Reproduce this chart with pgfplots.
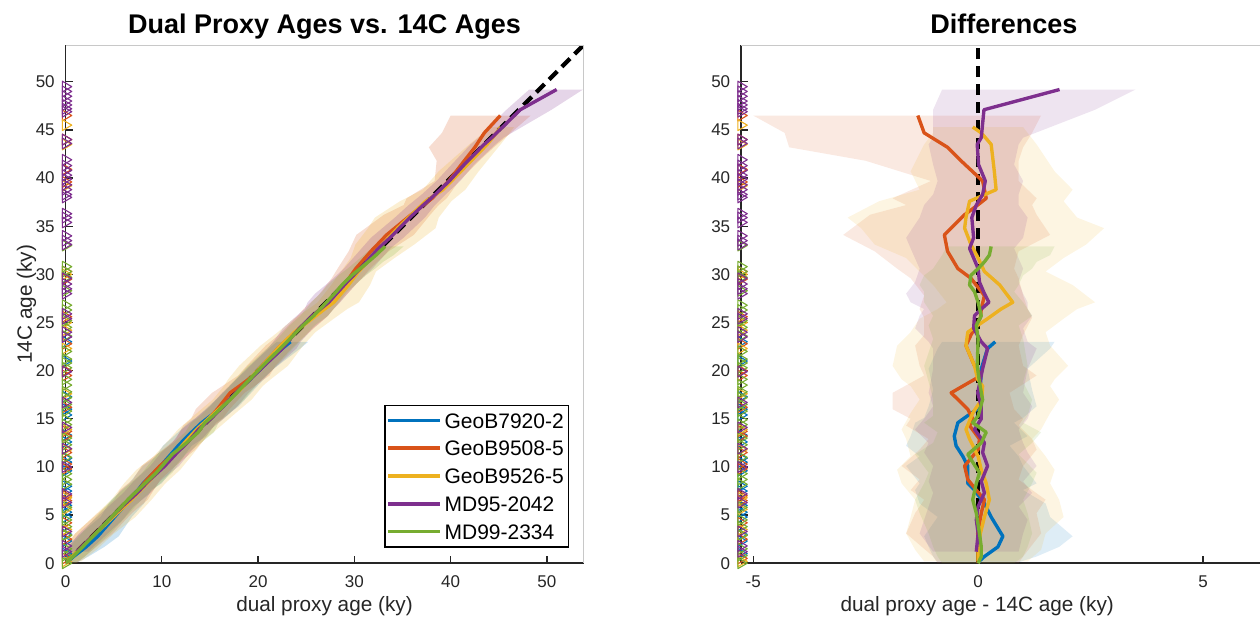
\documentclass[border=0pt]{standalone}
\usepackage{fontspec}
\setmainfont{Liberation Sans}
\usepackage{pgfplots}
\usepackage{pgfplotstable}
\pgfplotsset{compat=1.18}
\usepgfplotslibrary{fillbetween}

\definecolor{cB}{HTML}{0072BD}
\definecolor{cO}{HTML}{D95319}
\definecolor{cY}{HTML}{EDB120}
\definecolor{cP}{HTML}{7E2F8E}
\definecolor{cG}{HTML}{77AC30}
\definecolor{axgray}{HTML}{262626}
\definecolor{boxgray}{HTML}{C8C8C8}

% age = 14C age (ky), diff = dual proxy age - 14C age, lo/hi = band limits of diff
\pgfplotstableread{
age diff lo hi
0.1 0.00 -0.9 0.9
0.7 0.14 -1.0 1.3
1.7 0.44 -1.1 1.8
2.8 0.55 -1.2 2.1
4.8 0.29 -0.9 1.6
6.2 0.14 -1.3 1.5
7.6 -0.08 -1.4 1.0
8.3 -0.23 -1.3 1.3
10.1 -0.23 -1.6 1.0
11.1 -0.34 -1.3 0.9
12.2 -0.49 -1.6 0.7
13.2 -0.53 -1.5 1.1
14.6 -0.45 -1.4 0.8
15.1 -0.30 -1.2 1.0
16.3 0.07 -1.1 1.3
18.0 0.05 -1.0 1.2
20.2 0.07 -1.1 1.1
22.3 0.21 -0.9 1.6
23.0 0.38 -0.8 1.7
}\tB
\pgfplotstableread{
age diff lo hi
0.0 0.00 -0.9 0.9
0.7 0.00 -1.0 1.0
3.1 -0.01 -1.6 1.4
5.2 0.07 -1.4 1.3
6.6 0.14 -1.2 1.5
7.6 -0.04 -1.5 1.2
8.7 -0.23 -1.3 0.9
10.1 -0.30 -1.7 1.0
11.8 0.00 -1.3 1.3
12.9 0.03 -1.1 1.2
14.3 -0.19 -1.6 0.9
15.0 -0.12 -1.5 1.0
16.0 -0.23 -1.9 0.8
17.7 -0.60 -1.9 0.7
19.5 0.07 -1.2 1.3
20.5 -0.08 -1.3 1.0
22.6 -0.27 -1.4 0.9
23.7 -0.16 -1.2 1.0
25.5 0.05 -1.2 1.2
26.4 0.07 -1.3 1.1
27.8 0.14 -1.2 1.0
29.6 -0.16 -1.5 0.9
30.6 -0.45 -1.8 0.8
32.4 -0.68 -2.3 0.9
34.1 -0.75 -3.0 1.6
36.2 -0.30 -2.4 1.3
37.2 -0.01 -1.6 1.2
37.9 0.18 -1.9 1.3
39.7 0.10 -1.05 0.9
41.8 -0.38 -2.5 0.9
43.2 -0.68 -4.2 1.0
44.7 -1.20 -4.3 1.2
46.5 -1.34 -5.0 1.4
}\tO
\pgfplotstableread{
age diff lo hi
0.2 0.00 -1.2 1.1
1.4 0.00 -1.4 1.4
3.1 0.05 -1.6 1.5
4.8 0.14 -1.5 1.9
6.6 0.25 -1.4 1.8
8.3 0.18 -1.7 1.6
9.7 0.07 -1.8 1.7
11.1 0.00 -1.5 1.5
12.9 -0.19 -1.6 1.2
13.9 -0.27 -1.7 1.4
15.6 -0.12 -1.5 1.6
17.0 0.08 -1.3 1.8
18.4 0.10 -1.5 1.6
19.1 -0.01 -1.7 1.7
20.5 -0.08 -1.9 2.0
22.6 -0.27 -1.8 1.6
24.0 -0.23 -1.5 1.5
25.4 0.21 -1.3 1.9
26.4 0.51 -0.9 2.2
27.1 0.77 -0.7 2.6
28.9 0.48 -1.0 2.1
30.3 0.14 -1.3 1.5
31.7 0.00 -1.6 1.9
33.1 -0.16 -2.3 2.4
34.8 -0.30 -2.6 2.8
35.9 -0.27 -2.9 2.2
37.6 -0.19 -2.2 1.9
38.8 0.40 -1.3 2.1
40.7 0.36 -1.5 1.7
43.5 0.29 -1.2 1.3
44.7 0.07 -1.0 1.1
45.3 -0.12 -1.0 1.0
}\tY
\pgfplotstableread{
age diff lo hi
1.2 -0.04 -1.0 0.9
3.1 0.00 -1.3 1.0
4.5 -0.04 -1.2 1.1
5.9 0.00 -1.1 0.9
7.3 0.14 -1.0 1.2
8.5 0.07 -1.1 1.0
10.1 0.21 -1.0 1.3
11.5 0.10 -1.2 1.1
12.5 0.14 -1.1 1.0
13.9 -0.08 -1.4 0.9
15.0 0.07 -1.2 1.1
16.3 0.07 -1.0 1.2
17.7 -0.01 -1.1 1.0
20.2 0.10 -1.0 1.1
22.3 0.21 -1.0 1.3
23.0 0.07 -1.1 1.1
24.4 -0.10 -1.4 1.0
25.7 -0.08 -1.3 1.2
26.4 0.07 -1.2 1.1
27.1 0.24 -1.5 1.1
28.0 0.14 -1.6 1.0
29.2 0.03 -1.4 0.9
30.6 0.00 -1.3 1.0
32.7 -0.19 -1.5 0.8
33.8 -0.10 -1.6 1.0
35.9 -0.14 -1.3 1.1
37.2 -0.04 -1.2 0.9
38.3 0.10 -1.0 0.9
39.7 0.16 -0.9 1.0
41.4 0.01 -1.0 0.8
43.5 -0.02 -1.1 0.9
44.2 0.07 -1.0 1.0
47.1 0.13 -1.0 2.6
49.2 1.81 -0.8 3.5
}\tP
\pgfplotstableread{
age diff lo hi
0.0 0.00 -0.8 0.8
0.7 0.07 -0.9 1.0
1.7 0.07 -1.0 1.1
3.1 0.03 -1.1 1.2
5.2 -0.04 -1.3 1.1
6.6 -0.12 -1.4 1.0
8.3 -0.04 -1.2 1.2
9.4 0.03 -1.1 1.3
11.3 -0.23 -1.4 0.9
12.5 0.07 -1.0 1.2
13.6 0.18 -0.9 1.4
14.6 -0.12 -1.2 1.0
15.3 0.00 -1.0 1.1
17.0 0.10 -1.0 1.2
18.8 0.03 -1.1 1.0
20.5 -0.02 -1.2 1.1
23.3 0.00 -1.0 1.0
24.7 -0.04 -1.1 0.9
25.7 0.07 -1.0 1.2
27.1 0.00 -1.2 1.0
28.2 -0.08 -1.2 0.8
28.9 -0.19 -1.3 0.9
29.9 -0.16 -1.2 1.0
30.6 0.00 -1.0 1.2
31.3 0.14 -0.9 1.3
32.0 0.25 -0.8 1.6
32.9 0.29 -0.7 1.7
}\tG

% 14C dates (ky) of each core
\pgfplotstableread{
y
1.0
2.3
3.0
4.8
5.3
6.0
7.5
8.0
9.6
10.5
10.9
12.6
13.3
15.4
16.0
17.3
21.0
23.0
}\mB
\pgfplotstableread{
y
0.5
2.5
4.2
6.5
7.0
9.8
10.3
11.5
13.2
13.7
16.2
19.5
20.0
22.8
25.6
29.5
30.3
39.6
40.9
44.0
46.5
}\mO
\pgfplotstableread{
y
0.2
2.9
3.5
5.6
6.8
11.8
13.9
17.6
22.3
24.2
25.0
30.0
39.2
43.5
45.5
}\mY
\pgfplotstableread{
y
1.2
1.8
3.3
6.3
7.2
10.0
11.9
14.1
16.7
19.9
23.5
24.0
25.4
25.9
28.0
28.5
29.0
29.6
33.1
33.5
34.0
35.4
35.9
36.3
38.0
38.3
38.8
39.3
39.9
40.3
40.8
41.3
41.9
43.6
44.0
46.9
47.2
47.6
48.0
48.5
49.0
49.5
}\mP
\pgfplotstableread{
y
0.0
0.8
1.5
2.9
3.8
4.5
5.8
8.2
8.7
9.3
11.0
12.3
13.0
14.4
14.9
15.8
16.5
17.2
17.8
18.5
19.1
20.3
20.8
21.2
22.0
23.6
24.5
25.2
26.3
26.8
28.3
29.7
30.3
30.8
33.0
}\mG

\pgfplotsset{
  myaxis/.style={
    scale only axis, height=207.2pt,
    axis lines=left, axis line style={-, draw=axgray, line width=0.6pt},
    tick align=inside, major tick length=2.8pt,
    tick style={draw=axgray, line width=0.5pt},
    ymin=0, ymax=53.8, ytick={0,5,...,50},
    tick label style={font=\fontsize{6.8}{8}\selectfont, text=axgray},
    /pgf/number format/assume math mode=true,
    yticklabel style={anchor=east, xshift=-0.8pt},
    xticklabel style={anchor=base, yshift=-9.8pt},
    label style={font=\fontsize{8.3}{10}\selectfont, text=axgray},
    title style={font=\fontsize{10.8}{13}\selectfont\bfseries, at={(0.5,1)}, anchor=base, yshift=-1.2pt},
    clip mode=individual,
    every axis plot/.append style={line join=round},
    after end axis/.code={\draw[boxgray, line width=0.4pt] (rel axis cs:0,1) -- (rel axis cs:1,1) -- (rel axis cs:1,0);},
  },
  mk/.style={only marks, mark=triangle, mark size=2.5pt, line width=0.45pt, mark options={rotate=-90, solid}, forget plot},
  ln/.style={line width=1.35pt},
  bandL/.style={draw=none, forget plot},
}

\begin{document}
\begin{tikzpicture}

% ---------------- left panel ----------------
\begin{axis}[myaxis,
  at={(26.2pt,25.5pt)}, anchor=south west, width=207.2pt,
  xmin=0, xmax=53.8, xtick={0,10,...,50},
  title={Dual Proxy Ages vs. 14C Ages},
  xlabel={dual proxy age (ky)},
  ylabel={14C age (ky)},
  xlabel style={at={(axis description cs:0.5,-0.0941)}, anchor=base},
  ylabel style={at={(axis description cs:-0.0647,0.5)}, anchor=base},
  legend style={at={(rel axis cs:0.9717,0.0302)}, anchor=south east, draw=black, line width=0.5pt,
    font=\fontsize{8.4}{10}\selectfont, inner xsep=0.6pt, inner ysep=0.6pt,
    nodes={inner xsep=1.2pt, inner ysep=2.5pt, text height=6.1pt, text depth=0pt}},
  legend cell align=left,
  legend image code/.code={\draw[#1, line width=1.5pt] (0pt,0pt) -- (20.6pt,0pt);},
]
\addplot[black, dash pattern=on 4.6pt off 2.6pt, line width=1.7pt, forget plot] coordinates {(0,0) (54,54)};

\addplot[bandL, name path=LBa] table[x expr=\thisrow{age}+1.3*\thisrow{lo}, y=age] {\tB};
\addplot[bandL, name path=LBb] table[x expr=\thisrow{age}+1.3*\thisrow{hi}, y=age] {\tB};
\addplot[fill=cB, fill opacity=0.2, draw=none, forget plot] fill between[of=LBa and LBb, reverse=true];
\addplot[bandL, name path=LOa] table[x expr=\thisrow{age}+1.3*\thisrow{lo}, y=age] {\tO};
\addplot[bandL, name path=LOb] table[x expr=\thisrow{age}+1.3*\thisrow{hi}, y=age] {\tO};
\addplot[fill=cO, fill opacity=0.2, draw=none, forget plot] fill between[of=LOa and LOb, reverse=true];
\addplot[bandL, name path=LYa] table[x expr=\thisrow{age}+1.3*\thisrow{lo}, y=age] {\tY};
\addplot[bandL, name path=LYb] table[x expr=\thisrow{age}+1.3*\thisrow{hi}, y=age] {\tY};
\addplot[fill=cY, fill opacity=0.2, draw=none, forget plot] fill between[of=LYa and LYb, reverse=true];
\addplot[bandL, name path=LPa] table[x expr=\thisrow{age}+1.3*\thisrow{lo}, y=age] {\tP};
\addplot[bandL, name path=LPb] table[x expr=\thisrow{age}+1.3*\thisrow{hi}, y=age] {\tP};
\addplot[fill=cP, fill opacity=0.2, draw=none, forget plot] fill between[of=LPa and LPb, reverse=true];
\addplot[bandL, name path=LGa] table[x expr=\thisrow{age}+1.3*\thisrow{lo}, y=age] {\tG};
\addplot[bandL, name path=LGb] table[x expr=\thisrow{age}+1.3*\thisrow{hi}, y=age] {\tG};
\addplot[fill=cG, fill opacity=0.2, draw=none, forget plot] fill between[of=LGa and LGb, reverse=true];

\addplot[mk, cB] table[x expr=0, y=y] {\mB};
\addplot[mk, cO] table[x expr=0, y=y] {\mO};
\addplot[mk, cY] table[x expr=0, y=y] {\mY};
\addplot[mk, cG] table[x expr=0, y=y] {\mG};
\addplot[mk, cP] table[x expr=0, y=y] {\mP};

\addplot[ln, cB] table[x expr=\thisrow{age}+\thisrow{diff}, y=age] {\tB};
\addplot[ln, cO] table[x expr=\thisrow{age}+\thisrow{diff}, y=age] {\tO};
\addplot[ln, cY] table[x expr=\thisrow{age}+\thisrow{diff}, y=age] {\tY};
\addplot[ln, cP] table[x expr=\thisrow{age}+\thisrow{diff}, y=age] {\tP};
\addplot[ln, cG] table[x expr=\thisrow{age}+\thisrow{diff}, y=age] {\tG};
\legend{GeoB7920-2,GeoB9508-5,GeoB9526-5,MD95-2042,MD99-2334}
\end{axis}

% ---------------- right panel ----------------
\begin{axis}[myaxis,
  at={(296.4pt,25.5pt)}, anchor=south west, width=210.4pt,
  xmin=-5.27, xmax=6.42, xtick={-5,0,5},
  title={Differences},
  xlabel={dual proxy age - 14C age (ky)},
  xlabel style={at={(axis description cs:0.449,-0.0941)}, anchor=base},
]
\addplot[black, dash pattern=on 4.6pt off 2.6pt, line width=1.7pt, forget plot] coordinates {(0,0) (0,53.8)};

\addplot[bandL, name path=RBa] table[x=lo, y=age] {\tB};
\addplot[bandL, name path=RBb] table[x=hi, y=age] {\tB};
\addplot[fill=cB, fill opacity=0.13, draw=none, forget plot] fill between[of=RBa and RBb, reverse=true];
\addplot[bandL, name path=ROa] table[x=lo, y=age] {\tO};
\addplot[bandL, name path=ROb] table[x=hi, y=age] {\tO};
\addplot[fill=cO, fill opacity=0.13, draw=none, forget plot] fill between[of=ROa and ROb, reverse=true];
\addplot[bandL, name path=RYa] table[x=lo, y=age] {\tY};
\addplot[bandL, name path=RYb] table[x=hi, y=age] {\tY};
\addplot[fill=cY, fill opacity=0.13, draw=none, forget plot] fill between[of=RYa and RYb, reverse=true];
\addplot[bandL, name path=RPa] table[x=lo, y=age] {\tP};
\addplot[bandL, name path=RPb] table[x=hi, y=age] {\tP};
\addplot[fill=cP, fill opacity=0.13, draw=none, forget plot] fill between[of=RPa and RPb, reverse=true];
\addplot[bandL, name path=RGa] table[x=lo, y=age] {\tG};
\addplot[bandL, name path=RGb] table[x=hi, y=age] {\tG};
\addplot[fill=cG, fill opacity=0.13, draw=none, forget plot] fill between[of=RGa and RGb, reverse=true];

\addplot[mk, cB] table[x expr=-5.27, y=y] {\mB};
\addplot[mk, cO] table[x expr=-5.27, y=y] {\mO};
\addplot[mk, cY] table[x expr=-5.27, y=y] {\mY};
\addplot[mk, cG] table[x expr=-5.27, y=y] {\mG};
\addplot[mk, cP] table[x expr=-5.27, y=y] {\mP};

\addplot[ln, cB] table[x=diff, y=age] {\tB};
\addplot[ln, cO] table[x=diff, y=age] {\tO};
\addplot[ln, cY] table[x=diff, y=age] {\tY};
\addplot[ln, cP] table[x=diff, y=age] {\tP};
\addplot[ln, cG] table[x=diff, y=age] {\tG};
\end{axis}
\pgfresetboundingbox
\useasboundingbox (0,0) rectangle (504pt,250.8pt);
\end{tikzpicture}
\end{document}
